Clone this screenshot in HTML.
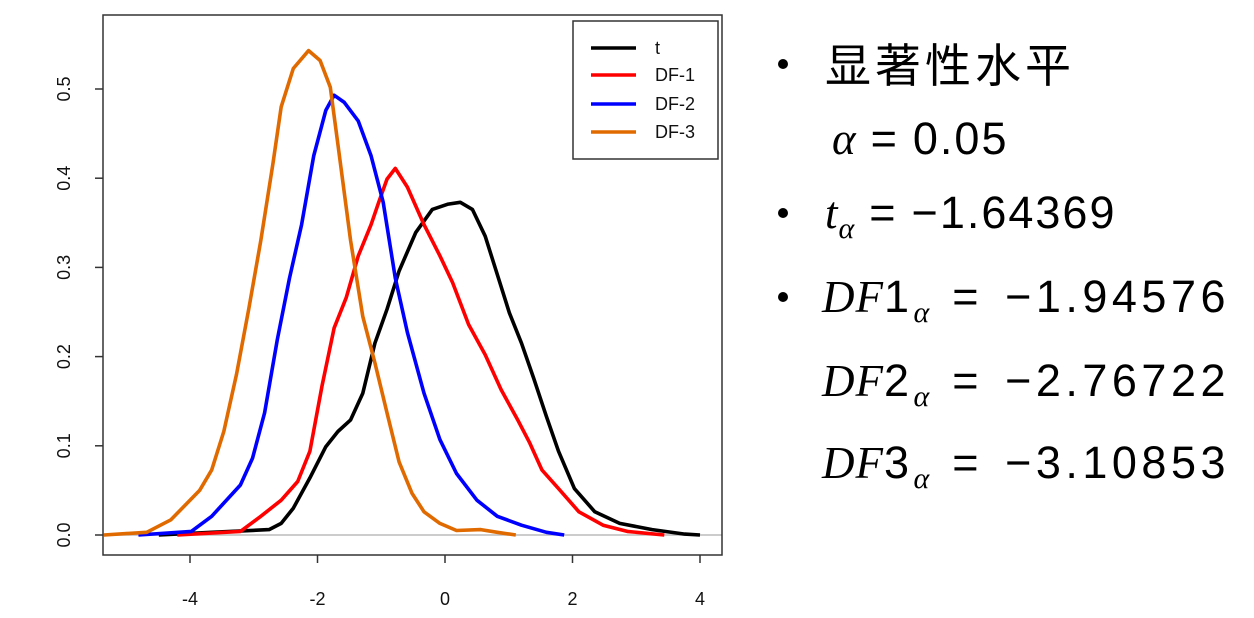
<!DOCTYPE html>
<html><head><meta charset="utf-8"><style>
body{margin:0;background:#fff;width:1254px;height:618px;overflow:hidden;position:relative;font-family:"Liberation Sans","Noto Sans CJK SC",sans-serif}
.t{position:absolute;font-size:45px;color:#000;white-space:nowrap;line-height:1;letter-spacing:4.5px}
.i{font-family:"Liberation Serif",serif;font-style:italic;letter-spacing:1px}
.eq{margin:0 14px}
.df .eq{margin:0 22px}
.b{position:absolute;width:10px;height:10px;border-radius:50%;background:#000}
sub{font-size:30px;vertical-align:-10px}
</style></head><body>
<svg id="chart" width="760" height="618" style="position:absolute;left:0;top:0" font-family="Liberation Sans, sans-serif"></svg>
<div class="b" style="left:778px;top:59px"></div>
<div class="t" style="left:825px;top:40px;font-size:46px;letter-spacing:4px;font-family:'Noto Sans CJK SC',sans-serif">显著性水平</div>
<div class="t" style="left:832px;top:116px;letter-spacing:2px"><span class="i">α</span><span class="eq">=</span>0.05</div>
<div class="b" style="left:778px;top:208px"></div>
<div class="t" style="left:825px;top:190px;letter-spacing:2px"><span class="i">t<sub>α</sub></span><span class="eq">=</span>−1.64369</div>
<div class="b" style="left:778px;top:292px"></div>
<div class="t df" style="left:822px;top:274px"><span class="i">DF</span>1<sub class="i">α</sub><span class="eq">=</span>−1.94576</div>
<div class="t df" style="left:822px;top:358px"><span class="i">DF</span>2<sub class="i">α</sub><span class="eq">=</span>−2.76722</div>
<div class="t df" style="left:822px;top:440px"><span class="i">DF</span>3<sub class="i">α</sub><span class="eq">=</span>−3.10853</div>
<script>
const xTicks=[-4,-2,0,2,4];
const yTicks=[0,0.1,0.2,0.3,0.4,0.5];
const yTickLabels=["0.0","0.1","0.2","0.3","0.4","0.5"];
const seriesNames=["t","DF-1","DF-2","DF-3"];
const tX=[-4.49,-3.66,-2.76,-2.57,-2.38,-2.12,-1.87,-1.68,-1.48,-1.29,-1.10,-0.91,-0.72,-0.46,-0.20,0.05,0.24,0.43,0.63,0.82,1.01,1.20,1.39,1.59,1.78,2.03,2.35,2.74,3.25,3.76,4.0];
const tY=[0,.003,.006,.013,.030,.064,.099,.116,.129,.159,.215,.253,.296,.339,.365,.371,.373,.365,.335,.292,.249,.215,.176,.133,.094,.052,.026,.013,.006,.001,0];
const df1X=[-4.20,-3.21,-2.89,-2.57,-2.31,-2.12,-1.93,-1.74,-1.55,-1.36,-1.16,-1.04,-0.91,-0.78,-0.59,-0.33,-0.08,0.12,0.37,0.63,0.88,1.14,1.33,1.52,1.78,2.10,2.48,2.86,3.44];
const df1Y=[0,.004,.021,.039,.060,.094,.167,.232,.266,.313,.348,.373,.399,.411,.390,.348,.313,.283,.236,.202,.163,.129,.103,.073,.052,.026,.011,.004,0];
const df2X=[-4.81,-3.98,-3.66,-3.21,-3.02,-2.83,-2.63,-2.44,-2.25,-2.06,-1.87,-1.74,-1.58,-1.36,-1.16,-0.97,-0.78,-0.59,-0.33,-0.08,0.18,0.50,0.82,1.20,1.59,1.87];
const df2Y=[0,.004,.021,.056,.086,.137,.219,.288,.348,.425,.476,.493,.485,.464,.425,.373,.288,.227,.159,.107,.069,.039,.021,.011,.003,0];
const df3X=[-5.35,-4.68,-4.30,-3.85,-3.66,-3.47,-3.27,-3.08,-2.89,-2.70,-2.57,-2.38,-2.14,-1.96,-1.80,-1.68,-1.48,-1.29,-1.10,-0.91,-0.72,-0.52,-0.33,-0.08,0.18,0.56,0.82,1.11];
const df3Y=[0,.003,.017,.050,.073,.116,.180,.253,.330,.416,.480,.523,.543,.532,.502,.438,.330,.245,.193,.137,.082,.047,.026,.013,.005,.006,.003,0];

const NS="http://www.w3.org/2000/svg";
const svg=document.getElementById('chart');
const sx=v=>445+v*63.75;
const sy=v=>535-v*892;
function mk(tag,attrs,parent){const e=document.createElementNS(NS,tag);for(const k in attrs)e.setAttribute(k,attrs[k]);(parent||svg).appendChild(e);return e;}
let e;
e=mk('line',{x1:103,x2:722,y1:sy(0),y2:sy(0),stroke:'#bbb','stroke-width':1.5});


const cols=['#000','#ff0000','#0000ff','#e06a00'];
const xs=[tX,df1X,df2X,df3X],ys=[tY,df1Y,df2Y,df3Y];
for(let s=0;s<4;s++){
 const pts=xs[s].map((x,i)=>sx(x).toFixed(1)+','+sy(ys[s][i]).toFixed(1)).join(' ');
 e=mk('polyline',{points:pts,fill:'none',stroke:cols[s],'stroke-width':3.6,'stroke-linejoin':'round'});
 
 
}
e=mk('rect',{x:103,y:15,width:619,height:540,fill:'none',stroke:'#333','stroke-width':1.5});


xTicks.forEach(v=>{
 e=mk('line',{x1:sx(v),x2:sx(v),y1:555,y2:563,stroke:'#333','stroke-width':1.5});
 
 
 e=mk('text',{x:sx(v),y:605,'text-anchor':'middle','font-size':18,fill:'#111'});e.textContent=v;
 
 
});
yTicks.forEach((v,i)=>{
 e=mk('line',{x1:95,x2:103,y1:sy(v),y2:sy(v),stroke:'#333','stroke-width':1.5});
 
 
 e=mk('text',{x:0,y:0,'text-anchor':'middle','font-size':18,fill:'#111',transform:`translate(70,${sy(v)}) rotate(-90)`});e.textContent=yTickLabels[i];
 
 
});
const lg=mk('g',{});


mk('rect',{x:573,y:21,width:145,height:138,fill:'#fff',stroke:'#333','stroke-width':1.5},lg);
const rowY=[48,75,104,132];
for(let s=0;s<4;s++){
 e=mk('line',{x1:591,x2:636,y1:rowY[s],y2:rowY[s],stroke:cols[s],'stroke-width':3.6},lg);
 
 
 e=mk('text',{x:655,y:rowY[s]+6,'font-size':18,fill:'#111'},lg);e.textContent=seriesNames[s];
 
 
}
</script>
</body></html>
